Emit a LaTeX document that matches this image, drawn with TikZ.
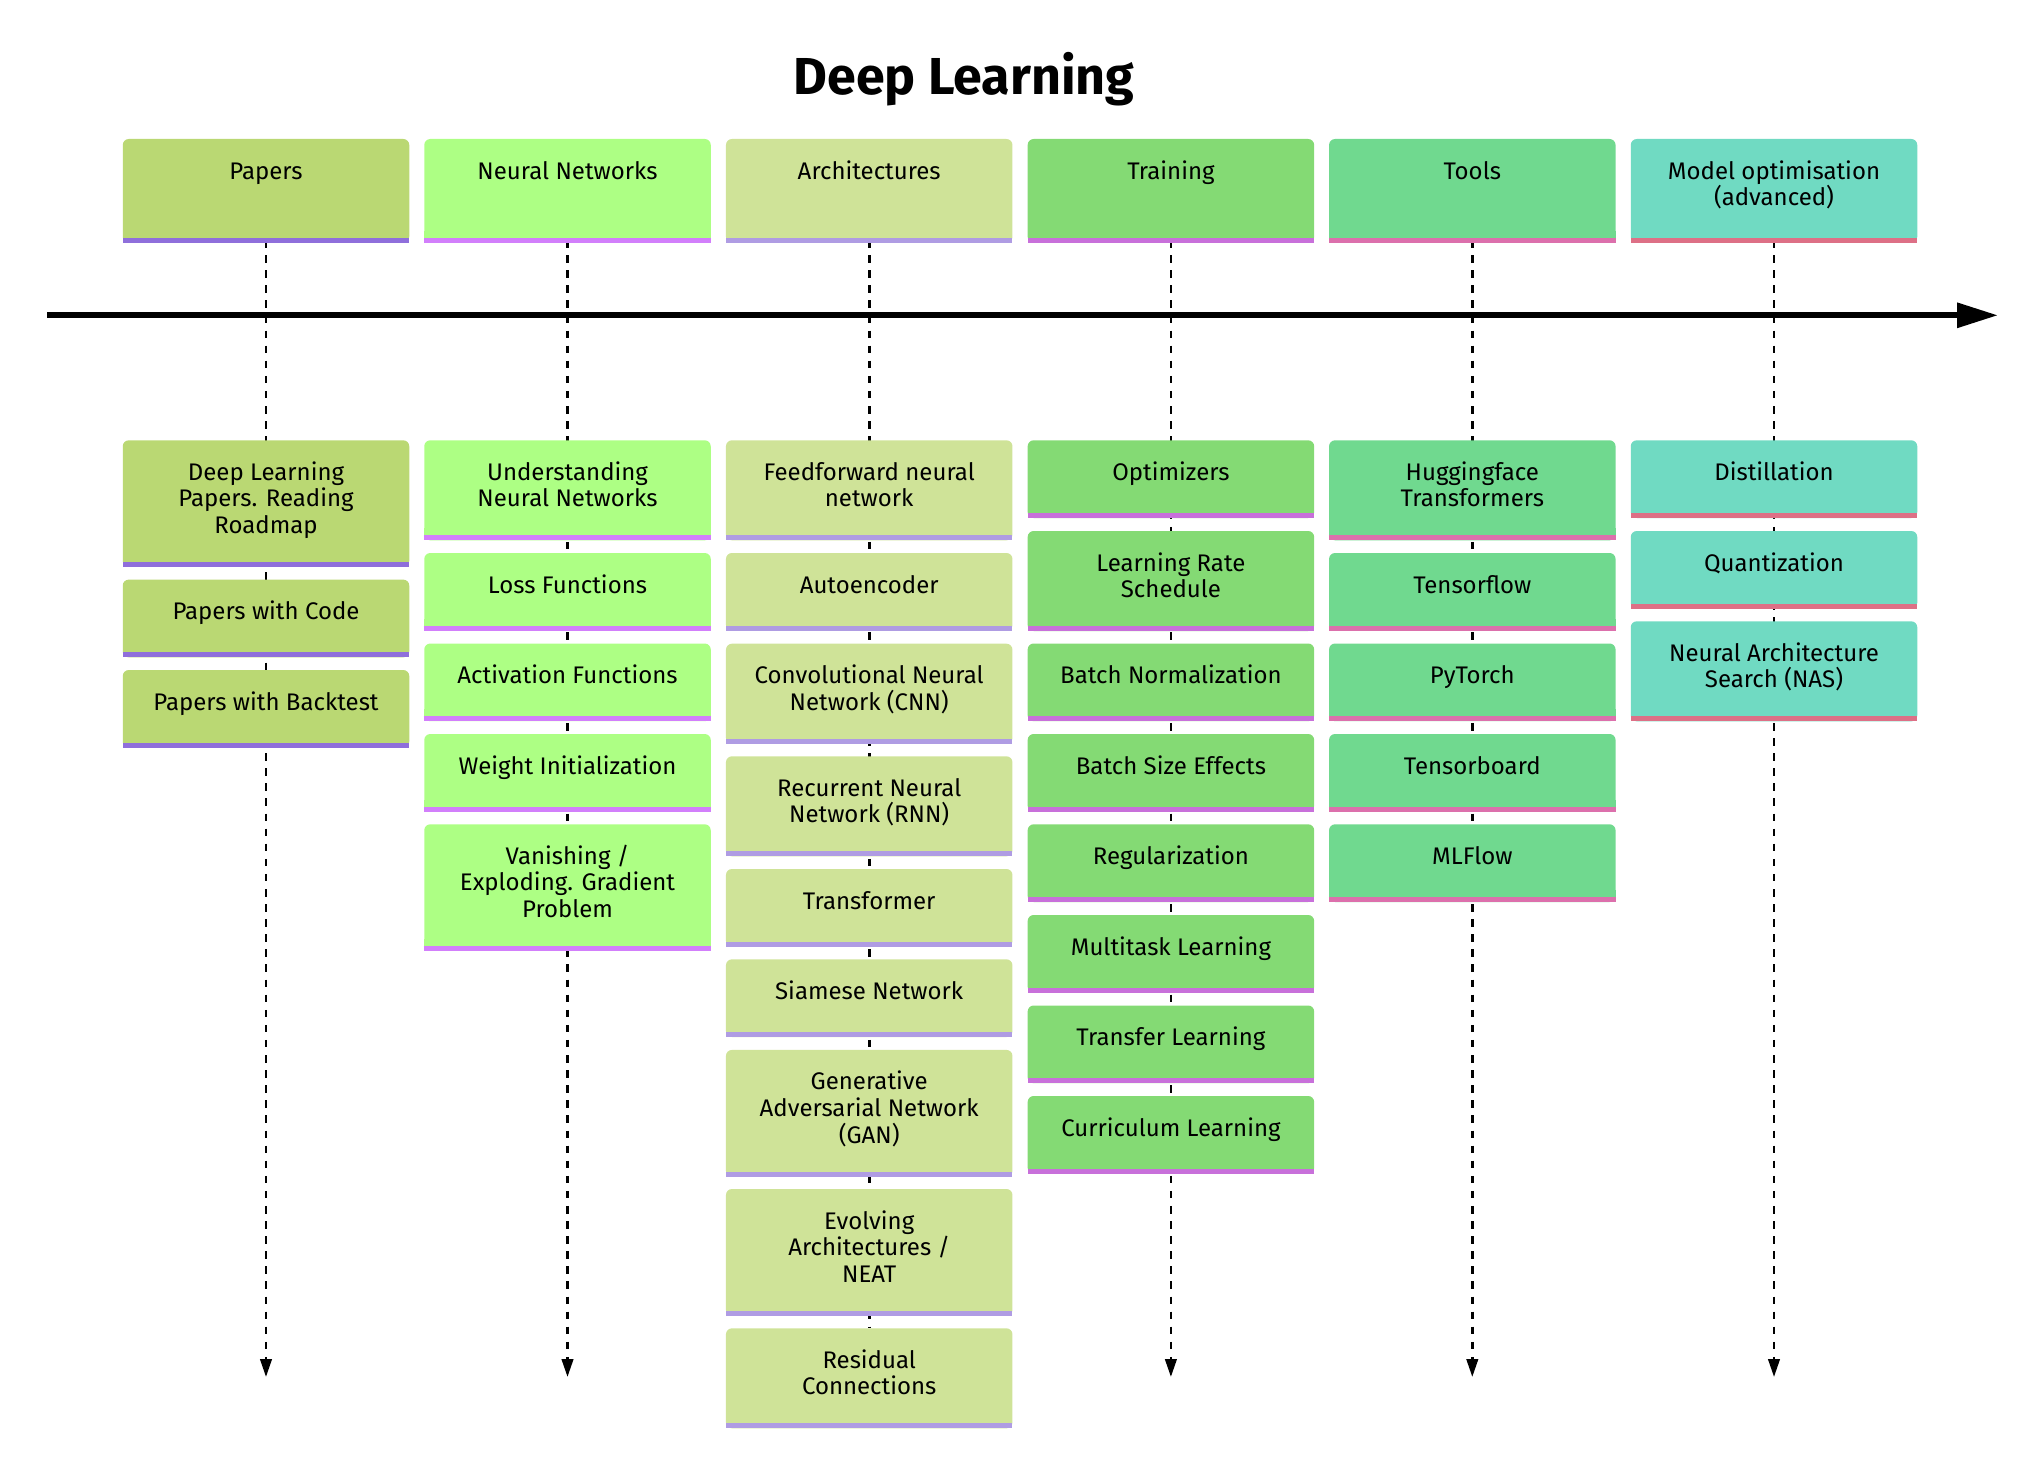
\documentclass[tikz,border=0pt]{standalone}
\usepackage{fontspec}
\setmainfont{Fira Sans}
\usetikzlibrary{arrows.meta}
\pgfdeclarelayer{conn}
\pgfsetlayers{conn,main}
\def\px{0.75pt}
\definecolor{cA}{HTML}{BAD873}\definecolor{sA}{HTML}{8F6FDB}
\definecolor{cB}{HTML}{ADFF84}\definecolor{sB}{HTML}{D27FFB}
\definecolor{cC}{HTML}{CFE398}\definecolor{sC}{HTML}{AF9CE3}
\definecolor{cD}{HTML}{84DA74}\definecolor{sD}{HTML}{C870DA}
\definecolor{cE}{HTML}{70D98F}\definecolor{sE}{HTML}{DC70AC}
\definecolor{cF}{HTML}{70DAC2}\definecolor{sF}{HTML}{DD7086}
\tikzset{
  cardbox/.style={rectangle,inner sep=0pt,outer sep=0pt,minimum width=286.5*\px,rounded corners=6*\px},
  cardtext/.style={anchor=north,inner sep=0pt,outer sep=0pt,align=center,text=black,font=\fontsize{18}{19.95}\selectfont},
  dashline/.style={draw=black,line width=2.03pt,dash pattern=on 5.66pt off 5.66pt,dash phase=2.03pt},
  timeline/.style={dashline,-{Triangle[length=13.5pt,width=8.6pt]}},
  mainaxis/.style={draw=black,line width=4.5pt,-{Triangle[length=30.7pt,width=18pt]}}
}
% name, centre x, top, height, colour key, text
\newcommand{\card}[6]{%
  \node[cardbox,fill=c#5,minimum height=#4*\px,anchor=north] (#1) at (#2,#3) {};
  \fill[c#5] ([yshift=12*\px]#1.south west) rectangle (#1.south east);
  \fill[s#5] ([yshift=5*\px]#1.south west) rectangle (#1.south east);
  \node[cardtext] (#1t) at (#2,#3+18.67) {\rule{0pt}{16pt}#6};
}
\begin{document}
\begin{tikzpicture}[x=0.75pt,y=-0.75pt]
\useasboundingbox (0,0) rectangle (2038,1480);
\node[anchor=base,inner sep=0pt,font=\fontsize{39}{44}\selectfont\bfseries] (title) at (964,95) {Deep Learning};

\coordinate (axisstart) at (47,315.3);
\coordinate (axisend) at (1998,315.3);
\draw[mainaxis] (axisstart) -- (axisend);

% Headers
\card{hA}{266}{139}{103.7}{A}{Papers}
\card{hB}{567.5}{139}{103.7}{B}{Neural Networks}
\card{hC}{869.2}{139}{103.7}{C}{Architectures}
\card{hD}{1170.9}{139}{103.7}{D}{Training}
\card{hE}{1472.3}{139}{103.7}{E}{Tools}
\card{hF}{1774}{139}{103.7}{F}{Model optimisation\\(advanced)}

% Papers
\card{a1}{266}{440.3}{126.4}{A}{Deep Learning\\Papers. Reading\\Roadmap}
\card{a2}{266}{579.6}{77.7}{A}{Papers with Code}
\card{a3}{266}{670}{77.7}{A}{Papers with Backtest}

% Neural Networks
\card{b1}{567.5}{440.3}{100}{B}{Understanding\\Neural Networks}
\card{b2}{567.5}{553}{77.7}{B}{Loss Functions}
\card{b3}{567.5}{643.5}{77.7}{B}{Activation Functions}
\card{b4}{567.5}{734}{77.7}{B}{Weight Initialization}
\card{b5}{567.5}{824.3}{126.4}{B}{Vanishing /\\Exploding. Gradient\\Problem}

% Architectures
\card{c1}{869.2}{440.3}{100}{C}{Feedforward neural\\network}
\card{c2}{869.2}{553}{77.7}{C}{Autoencoder}
\card{c3}{869.2}{643.7}{100}{C}{Convolutional Neural\\Network (CNN)}
\card{c4}{869.2}{756.3}{100}{C}{Recurrent Neural\\Network (RNN)}
\card{c5}{869.2}{869}{77.7}{C}{Transformer}
\card{c6}{869.2}{959.3}{77.7}{C}{Siamese Network}
\card{c7}{869.2}{1049.9}{126.7}{C}{Generative\\Adversarial Network\\(GAN)}
\card{c8}{869.2}{1189}{126.7}{C}{Evolving\\Architectures /\\NEAT}
\card{c9}{869.2}{1328.3}{100}{C}{Residual\\Connections}

% Training
\card{d1}{1170.9}{440.3}{77.7}{D}{Optimizers}
\card{d2}{1170.9}{531}{100}{D}{Learning Rate\\Schedule}
\card{d3}{1170.9}{643.5}{77.7}{D}{Batch Normalization}
\card{d4}{1170.9}{734}{77.7}{D}{Batch Size Effects}
\card{d5}{1170.9}{824.3}{77.7}{D}{Regularization}
\card{d6}{1170.9}{915}{77.7}{D}{Multitask Learning}
\card{d7}{1170.9}{1005.5}{77.7}{D}{Transfer Learning}
\card{d8}{1170.9}{1096}{77.7}{D}{Curriculum Learning}

% Tools
\card{e1}{1472.3}{440.3}{100}{E}{Huggingface\\Transformers}
\card{e2}{1472.3}{553}{77.7}{E}{Tensorflow}
\card{e3}{1472.3}{643.5}{77.7}{E}{PyTorch}
\card{e4}{1472.3}{734}{77.7}{E}{Tensorboard}
\card{e5}{1472.3}{824.3}{77.7}{E}{MLFlow}

% Model optimisation
\card{f1}{1774}{440.3}{77.7}{F}{Distillation}
\card{f2}{1774}{531}{77.7}{F}{Quantization}
\card{f3}{1774}{621.3}{100}{F}{Neural Architecture\\Search (NAS)}

% Dashed timelines, behind the boxes
\begin{pgfonlayer}{conn}
\coordinate (endA) at (266,1377);
\coordinate (endB) at (567.5,1377);
\coordinate (endD) at (1170.9,1377);
\coordinate (endE) at (1472.3,1377);
\coordinate (endF) at (1774,1377);
\draw[timeline] (hA.south) -- (endA);
\draw[timeline] (hB.south) -- (endB);
\draw[dashline] (hC.south) -- (c9.north);
\draw[timeline] (hD.south) -- (endD);
\draw[timeline] (hE.south) -- (endE);
\draw[timeline] (hF.south) -- (endF);
\end{pgfonlayer}
\end{tikzpicture}
\end{document}
